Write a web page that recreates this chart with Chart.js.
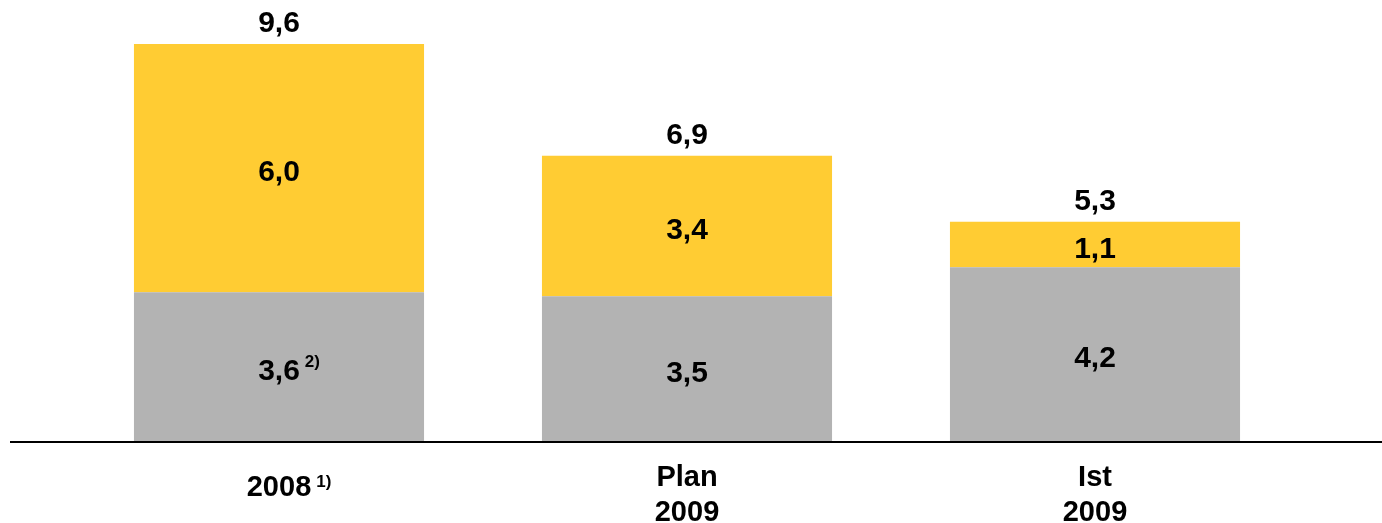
<!DOCTYPE html>
<html>
<head>
<meta charset="utf-8">
<script src="https://cdn.jsdelivr.net/npm/chart.js@4/dist/chart.umd.min.js"></script>
<style>
  html, body { margin: 0; padding: 0; background: #fff; }
  #wrap { width: 1382px; height: 523px; }
</style>
</head>
<body>
<div id="wrap"><canvas id="chart" width="1382" height="523"></canvas></div>
<script>
// Data
const categories = ['2008', 'Plan 2009', 'Ist 2009'];
const categoryLines = [['2008'], ['Plan', '2009'], ['Ist', '2009']];
const categoryNotes = ['1)', '', ''];
const baseValues = [3.6, 3.5, 4.2];
const baseNotes = ['2)', '', ''];
const topValues = [6.0, 3.4, 1.1];
const totals = [9.6, 6.9, 5.3];

const FONT = '"Liberation Sans", Arial, Helvetica, sans-serif';

// German decimal comma
function fmt(v) {
  return v.toFixed(1).replace('.', ',');
}

// Draw text centred at x, with an optional small raised note after it
function drawWithNote(ctx, text, note, x, y, size) {
  ctx.font = `bold ${size}px ${FONT}`;
  ctx.textAlign = 'center';
  ctx.fillText(text, x, y);
  if (note) {
    const w = ctx.measureText(text).width;
    ctx.font = `bold ${Math.round(size * 0.58)}px ${FONT}`;
    ctx.textAlign = 'left';
    ctx.fillText(note, x + w / 2 + 5, y - size * 0.3);
  }
}

const labelPlugin = {
  id: 'labels',
  afterDatasetsDraw(chart) {
    const ctx = chart.ctx;
    const y = chart.scales.y;
    const baseMeta = chart.getDatasetMeta(0);
    const topMeta = chart.getDatasetMeta(1);
    const zeroY = y.getPixelForValue(0);

    ctx.save();
    ctx.fillStyle = '#000';

    // baseline across the whole width
    ctx.strokeStyle = '#000';
    ctx.lineWidth = 2;
    ctx.beginPath();
    ctx.moveTo(10, zeroY + 1);
    ctx.lineTo(chart.width, zeroY + 1);
    ctx.stroke();

    ctx.textBaseline = 'middle';
    categories.forEach((c, i) => {
      const x = baseMeta.data[i].x;
      // gray segment value
      const gMid = (y.getPixelForValue(0) + y.getPixelForValue(baseValues[i])) / 2;
      drawWithNote(ctx, fmt(baseValues[i]), baseNotes[i], x, gMid + 5, 30);
      // yellow segment value
      const yMid = (y.getPixelForValue(baseValues[i]) + y.getPixelForValue(totals[i])) / 2;
      drawWithNote(ctx, fmt(topValues[i]), '', x, yMid + 5, 30);
    });

    // totals above bars
    ctx.textBaseline = 'alphabetic';
    categories.forEach((c, i) => {
      const x = topMeta.data[i].x;
      drawWithNote(ctx, fmt(totals[i]), '', x, y.getPixelForValue(totals[i]) - 12, 30);
    });

    // category labels below the axis
    categories.forEach((c, i) => {
      const x = baseMeta.data[i].x;
      const lines = categoryLines[i];
      if (lines.length === 1) {
        drawWithNote(ctx, lines[0], categoryNotes[i], x, 496, 29);
      } else {
        lines.forEach((line, j) => {
          drawWithNote(ctx, line, j === lines.length - 1 ? categoryNotes[i] : '', x, 486 + j * 35, 29);
        });
      }
    });
    ctx.restore();
  }
};

new Chart(document.getElementById('chart'), {
  type: 'bar',
  data: {
    labels: categories,
    datasets: [
      {
        label: 'Basis',
        data: baseValues,
        backgroundColor: '#b3b3b3',
        borderWidth: 0,
        barPercentage: 0.711,
        categoryPercentage: 1.0
      },
      {
        label: 'Zusatz',
        data: topValues,
        backgroundColor: '#ffcc33',
        borderWidth: 0,
        barPercentage: 0.711,
        categoryPercentage: 1.0
      }
    ]
  },
  options: {
    responsive: false,
    animation: false,
    devicePixelRatio: 1,
    layout: {
      padding: { left: 75, right: 83, top: 27.5, bottom: 82 }
    },
    plugins: {
      legend: { display: false },
      tooltip: { enabled: false }
    },
    scales: {
      x: { stacked: true, display: false },
      y: { stacked: true, display: false, min: 0, max: 10 }
    }
  },
  plugins: [labelPlugin]
});
</script>
</body>
</html>
